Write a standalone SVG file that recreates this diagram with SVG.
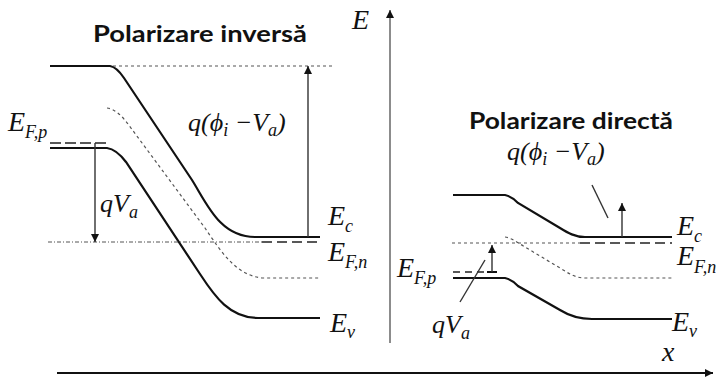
<svg xmlns="http://www.w3.org/2000/svg" width="723" height="377" viewBox="0 0 723 377">
<defs>
<marker id="ah" markerUnits="userSpaceOnUse" markerWidth="10" markerHeight="10" refX="8" refY="4" orient="auto"><path d="M0,0 L8,4 L0,8 Z" fill="#111"/></marker>
</defs>
<style>
.band{fill:none;stroke:#111;stroke-width:2.2}
.dot{fill:none;stroke:#555;stroke-width:1.2;stroke-dasharray:3,3}
.dd{fill:none;stroke:#555;stroke-width:1;stroke-dasharray:4,2,1,2}
.dash{fill:none;stroke:#222;stroke-width:1.6;stroke-dasharray:10,5}
.arr{fill:none;stroke:#333;stroke-width:1.4}
.m{font-family:"Liberation Serif",serif;font-style:italic;fill:#111}
.E{font-size:28px}
.s{font-size:18px}
.t{font-family:Lato,"Liberation Sans",sans-serif;font-weight:bold;font-size:22px;fill:#111}
</style>
<rect width="723" height="377" fill="#fff"/>
<g id="axes">
<line x1="390" y1="343" x2="390" y2="10" stroke="#666" stroke-width="1.5" marker-end="url(#ah)"/>
<line x1="57" y1="373" x2="713" y2="373" stroke="#111" stroke-width="2" marker-end="url(#ah)"/>
<text class="m E" x="352" y="29">E</text>
<text class="m E" x="662" y="361">x</text>
</g>
<g id="reverse">
<text class="t" x="93" y="42" textLength="214" lengthAdjust="spacingAndGlyphs">Polarizare inversă</text>
<path class="band" d="M50,66 H110 C116,67 120,72 124,78 L192,180 C207,204 220,237 255,237 H320"/>
<path class="band" d="M50,148 H107 C114,149 120,154 126,162 L200,274 C215,297 230,318 258,318 H320"/>
<path class="dot" d="M107,108 C115,109 122,116 128,124 L205,228 C220,250 235,275 262,278 H320"/>
<path class="dot" d="M113,66 H332"/>
<path class="dash" d="M50,143 H107" style="stroke-dasharray:11,4"/>
<path class="dd" d="M48,242 H262"/>
<path class="dash" d="M262,242 H320"/>
<text class="m E" x="8" y="131">E<tspan class="s" dy="7">F,p</tspan></text>
<text class="m" x="100" y="212" style="font-size:26px">qV<tspan class="s" dy="6">a</tspan></text>
<text class="m" x="188" y="131" style="font-size:26px">q(ϕ<tspan class="s" dy="5">i</tspan><tspan dy="-5"> −V</tspan><tspan class="s" dy="5">a</tspan><tspan dy="-5">)</tspan></text>
<text class="m E" x="328" y="225">E<tspan class="s" dy="7">c</tspan></text>
<text class="m E" x="328" y="261">E<tspan class="s" dy="7">F,n</tspan></text>
<text class="m E" x="330" y="332">E<tspan class="s" dy="6">v</tspan></text>
</g>
<g id="forward">
<text class="t" x="469" y="129" textLength="204" lengthAdjust="spacingAndGlyphs">Polarizare directă</text>
<path class="band" d="M453,195 H505 C510,196 514,199 518,203 L560,228 C568,233 575,237 585,237 H672"/>
<path class="band" d="M453,278 H505 C510,279 514,282 518,286 L560,310 C568,315 578,319 592,319 H672"/>
<path class="dot" d="M505,237 C512,238 518,243 525,247 L560,268 C568,273 575,278 585,278 H672"/>
<path class="dot" d="M452,243 H580"/>
<path class="dash" d="M580,243 H672"/>
<path class="dash" d="M453,272 H496" style="stroke-dasharray:7,5"/>
<line x1="487" y1="272" x2="497" y2="272" stroke="#111" stroke-width="2"/>
<text class="m E" x="397" y="277">E<tspan class="s" dy="7">F,p</tspan></text>
<text class="m" x="432" y="333" style="font-size:26px">qV<tspan class="s" dy="6">a</tspan></text>
<text class="m" x="507" y="160" style="font-size:26px">q(ϕ<tspan class="s" dy="5">i</tspan><tspan dy="-5"> −V</tspan><tspan class="s" dy="5">a</tspan><tspan dy="-5">)</tspan></text>
<text class="m E" x="677" y="235">E<tspan class="s" dy="7">c</tspan></text>
<text class="m E" x="677" y="265">E<tspan class="s" dy="8">F,n</tspan></text>
<text class="m E" x="672" y="331">E<tspan class="s" dy="6">v</tspan></text>
</g>
<g id="connectors">
<line class="arr" x1="95" y1="143" x2="95" y2="242" marker-end="url(#ah)"/>
<line class="arr" x1="308" y1="237" x2="308" y2="66" marker-end="url(#ah)"/>
<line class="arr" x1="492" y1="272" x2="492" y2="245" marker-end="url(#ah)"/>
<line class="arr" x1="622" y1="237" x2="622" y2="203" marker-end="url(#ah)"/>
<line class="arr" x1="460" y1="302" x2="485" y2="260"/>
<line class="arr" x1="592" y1="185" x2="608" y2="218"/>
</g>
</svg>
